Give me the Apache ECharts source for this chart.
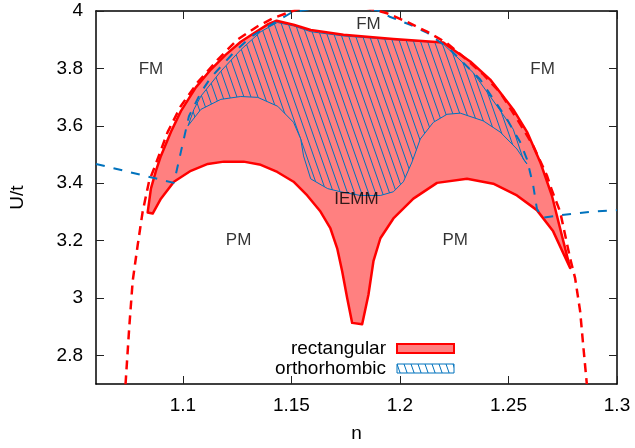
<!DOCTYPE html>
<html>
<head>
<meta charset="utf-8">
<script src="https://cdn.jsdelivr.net/npm/echarts@6/dist/echarts.min.js"></script>
<style>html,body{margin:0;padding:0;background:#fff}#c{width:635px;height:448px}</style>
</head>
<body>
<div id="c"></div>
<script>
// ---- data ----
const xTicks = [1.1, 1.15, 1.2, 1.25, 1.3];
const yTicks = [2.8, 3.0, 3.2, 3.4, 3.6, 3.8, 4.0];

// rectangular phase region boundary [n, U/t]
const rectangular = [
  [1.0838,3.298],[1.0853,3.381],[1.0876,3.443],[1.0899,3.495],[1.0945,3.578],[1.0991,3.651],
  [1.1060,3.734],[1.1129,3.796],[1.1198,3.848],[1.1267,3.893],[1.1336,3.927],[1.1395,3.955],
  [1.1432,3.966],[1.1510,3.952],[1.1589,3.934],[1.1740,3.917],[1.1970,3.902],[1.2200,3.890],
  [1.2246,3.865],[1.2324,3.824],[1.2416,3.761],[1.2522,3.657],[1.2586,3.578],[1.2646,3.474],
  [1.2700,3.357],[1.2738,3.242],[1.2784,3.104],
  [1.2706,3.232],[1.2631,3.306],[1.2539,3.357],[1.2430,3.398],[1.2309,3.415],[1.2171,3.401],
  [1.2062,3.346],[1.1970,3.277],[1.1910,3.208],[1.1878,3.128],[1.1855,3.011],[1.1826,2.908],
  [1.1780,2.913],[1.1757,3.000],[1.1734,3.093],[1.1711,3.173],[1.1680,3.242],[1.1634,3.301],
  [1.1573,3.357],[1.1510,3.405],[1.1435,3.439],[1.1359,3.464],[1.1280,3.475],[1.1189,3.475],
  [1.1115,3.467],[1.1037,3.443],[1.0959,3.405],[1.0899,3.346],[1.0861,3.294]
];

// orthorhombic phase region boundary [n, U/t]
const orthorhombic = [
  [1.1024,3.600],[1.1051,3.657],[1.1083,3.703],[1.1175,3.790],[1.1267,3.865],[1.1359,3.928],
  [1.1435,3.960],[1.1510,3.948],[1.1589,3.928],[1.1740,3.913],[1.1970,3.900],[1.2194,3.889],
  [1.2338,3.785],[1.2448,3.668],[1.2522,3.588],[1.2568,3.484],[1.2585,3.467],
  [1.2539,3.519],[1.2462,3.578],[1.2384,3.617],[1.2278,3.644],[1.2217,3.640],[1.2154,3.612],
  [1.2094,3.554],[1.2056,3.474],[1.2016,3.405],[1.1970,3.370],[1.1910,3.357],[1.1818,3.357],
  [1.1726,3.370],[1.1667,3.381],[1.1589,3.415],[1.1556,3.495],[1.1543,3.554],[1.1510,3.612],
  [1.1437,3.668],[1.1345,3.699],[1.1267,3.702],[1.1175,3.692],[1.1083,3.657]
];

// red dashed boundary
const redDashed = [
  [1.0736,2.699],[1.0753,2.896],[1.0769,3.059],[1.0792,3.184],[1.0815,3.301],[1.0844,3.405],
  [1.0867,3.450],[1.0930,3.578],[1.0991,3.669],[1.1068,3.751],[1.1160,3.830],[1.1251,3.900],
  [1.1343,3.946],[1.1418,3.976],[1.1543,4.010],[1.1680,4.024],[1.1818,4.017],[1.1941,3.992],
  [1.2033,3.962],[1.2125,3.928],[1.2217,3.888],[1.2309,3.830],[1.2384,3.779],[1.2462,3.716],
  [1.2554,3.606],[1.2614,3.530],[1.2677,3.427],[1.2700,3.375],[1.2738,3.301],[1.2784,3.138],
  [1.2807,3.069],[1.2830,2.955],[1.2844,2.838],[1.2861,2.700]
];

// blue dashed boundary
const blueDashed = [
  [1.0600,3.467],[1.0959,3.401],[1.0991,3.509],[1.1028,3.633],[1.1083,3.716],[1.1129,3.768],
  [1.1234,3.855],[1.1313,3.910],[1.1497,3.993],[1.1556,4.003],[1.1703,4.021],[1.1895,4.003],
  [1.1956,3.979],[1.2048,3.952],[1.2126,3.924],[1.2232,3.865],[1.2370,3.761],[1.2493,3.623],
  [1.2554,3.543],[1.2585,3.484],[1.2614,3.392],[1.2631,3.311],[1.2654,3.279],[1.2738,3.288],
  [1.2876,3.300],[1.3000,3.306]
];

const phaseNames = ['FM', 'FM', 'FM', 'PM', 'PM', 'IEMM'];
const phaseN = [1.0853, 1.1855, 1.2657, 1.1257, 1.2255, 1.1800];
const phaseU = [3.798, 3.952, 3.798, 3.200, 3.200, 3.345];

// ---- styling ----
const FONT = 'Liberation Sans, Arial, Helvetica, sans-serif';
const RED = '#ff0000';
const PINK = '#ff8080';
const BLUE = '#0072bd';

function makeHatch() {
  const W = 7, H = 20;
  const c = document.createElement('canvas');
  c.width = W; c.height = H;
  const g = c.getContext('2d');
  g.strokeStyle = BLUE;
  g.lineWidth = 1;
  for (const off of [-W, 0, W]) {
    g.beginPath();
    g.moveTo(off, 0);
    g.lineTo(off + W, H);
    g.stroke();
  }
  return c;
}
const hatch = { image: makeHatch(), repeat: 'repeat' };

function polygonRenderer(points, style) {
  return function (params, api) {
    if (params.dataIndex !== 0) return null;
    const pts = points.map(p => api.coord(p));
    return { type: 'polygon', shape: { points: pts }, style: style };
  };
}

const chart = echarts.init(document.getElementById('c'));

const tickStyle = { show: true, inside: true, length: 8, lineStyle: { color: '#222', width: 1 } };
const axisLineStyle = { show: true, onZero: false, lineStyle: { color: '#000', width: 1.5 } };

chart.setOption({
  animation: false,
  backgroundColor: '#fff',
  grid: { left: 95, right: 18, top: 11, bottom: 61 },
  textStyle: { fontFamily: FONT },
  legend: {
    orient: 'vertical',
    align: 'right',
    right: 180,
    top: 339,
    padding: 0,
    itemWidth: 57,
    itemHeight: 9,
    itemGap: 1,
    icon: 'rect',
    textStyle: { fontSize: 19, fontFamily: FONT, color: '#000', padding: [0, 6, 0, 0] },
    data: [
      { name: 'rectangular', itemStyle: { color: PINK, borderColor: RED, borderWidth: 2 } },
      { name: 'orthorhombic', itemStyle: { color: hatch, borderColor: BLUE, borderWidth: 1 } }
    ]
  },
  xAxis: [
    {
      type: 'value', min: 1.06, max: 1.3, position: 'bottom',
      name: 'n', nameLocation: 'middle', nameGap: 40,
      nameTextStyle: { fontSize: 19, color: '#000', fontFamily: FONT },
      axisLine: axisLineStyle,
      axisTick: Object.assign({ customValues: xTicks }, tickStyle),
      axisLabel: { customValues: xTicks, margin: 12, fontSize: 19, color: '#000', fontFamily: FONT },
      splitLine: { show: false }
    },
    {
      type: 'value', min: 1.06, max: 1.3, position: 'top',
      axisLine: axisLineStyle,
      axisTick: Object.assign({ customValues: xTicks }, tickStyle),
      axisLabel: { show: false },
      splitLine: { show: false }
    }
  ],
  yAxis: [
    {
      type: 'value', min: 2.7, max: 4.0, position: 'left',
      name: 'U/t', nameLocation: 'middle', nameGap: 69, nameRotate: 90,
      nameTextStyle: { fontSize: 19, color: '#000', fontFamily: FONT },
      axisLine: axisLineStyle,
      axisTick: Object.assign({ customValues: yTicks }, tickStyle),
      axisLabel: { customValues: yTicks, margin: 13, fontSize: 19, color: '#000', fontFamily: FONT },
      splitLine: { show: false }
    },
    {
      type: 'value', min: 2.7, max: 4.0, position: 'right',
      axisLine: axisLineStyle,
      axisTick: Object.assign({ customValues: yTicks }, tickStyle),
      axisLabel: { show: false },
      splitLine: { show: false }
    }
  ],
  series: [
    {
      type: 'custom', name: 'rectangular', coordinateSystem: 'cartesian2d',
      xAxisIndex: 0, yAxisIndex: 0,
      itemStyle: { color: PINK },
      encode: { x: 0, y: 1 },
      data: rectangular,
      renderItem: polygonRenderer(rectangular, { fill: PINK, stroke: null }),
      z: 1, silent: true
    },
    {
      type: 'custom', name: 'orthorhombic', coordinateSystem: 'cartesian2d',
      xAxisIndex: 0, yAxisIndex: 0,
      itemStyle: { color: BLUE },
      encode: { x: 0, y: 1 },
      data: orthorhombic,
      renderItem: polygonRenderer(orthorhombic, { fill: hatch, stroke: BLUE, lineWidth: 1 }),
      z: 2, silent: true
    },
    {
      type: 'custom', name: 'rectOutline', coordinateSystem: 'cartesian2d',
      xAxisIndex: 0, yAxisIndex: 0,
      encode: { x: 0, y: 1 },
      data: rectangular,
      renderItem: polygonRenderer(rectangular, { fill: null, stroke: RED, lineWidth: 2.5, lineJoin: 'round' }),
      z: 3, silent: true
    },
    {
      type: 'line', name: 'blueDashed', data: blueDashed, showSymbol: false, symbol: 'none',
      lineStyle: { color: BLUE, width: 2, type: [9, 9] }, clip: true, z: 4, silent: true
    },
    {
      type: 'line', name: 'redDashed', data: redDashed, showSymbol: false, symbol: 'none',
      lineStyle: { color: RED, width: 2.5, type: [9, 6] }, clip: true, z: 5, silent: true
    },
    {
      type: 'scatter', name: 'phases', symbolSize: 0, silent: true, z: 6,
      data: phaseNames.map((nm, i) => ({ name: nm, value: [phaseN[i], phaseU[i]] })),
      label: { show: true, position: 'inside', formatter: p => p.name, fontSize: 17, color: '#000', fontFamily: FONT }
    }
  ]
});
</script>
</body>
</html>
